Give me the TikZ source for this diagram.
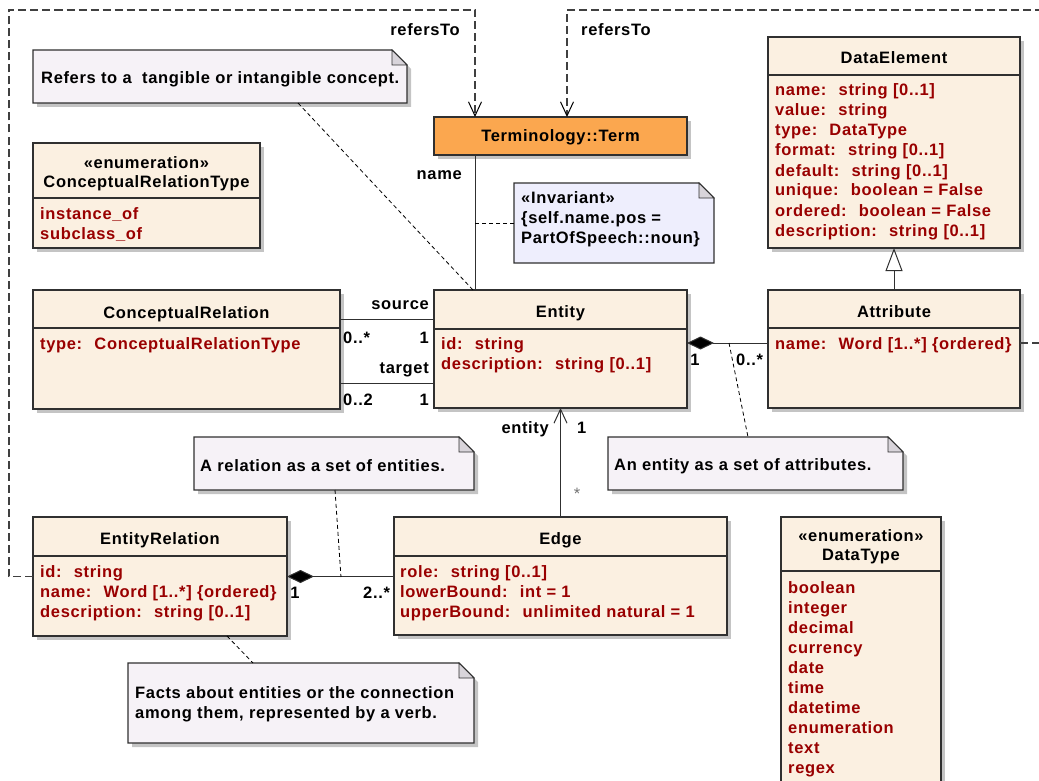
\documentclass[tikz,border=0pt]{standalone}
\usepackage{fontspec}
\setmainfont{Liberation Sans}[LetterSpace=4]
\usetikzlibrary{arrows.meta,shadows}
\definecolor{clsfill}{HTML}{FBF0E1}
\definecolor{attrc}{HTML}{990000}
\definecolor{notefill}{HTML}{F6F2F7}
\definecolor{invfill}{HTML}{EEEEFD}
\definecolor{termfill}{HTML}{FBA74F}
\definecolor{shadowc}{HTML}{C4C4C4}
\definecolor{foldc}{HTML}{D8D4DA}
\definecolor{edgec}{HTML}{303030}
\newcommand\uf{\fontsize{16.5pt}{20pt}\selectfont\bfseries}
\newcommand\drawnote[2]{%
 \path[draw=edgec, line width=1.1pt, fill=#2] (#1.north west) -- ([xshift=-15pt]#1.north east) -- ([yshift=-15pt]#1.north east) -- (#1.south east) -- (#1.south west) -- cycle;
 \filldraw[draw=edgec, line width=0.8pt, fill=foldc] ([xshift=-15pt]#1.north east) -- ([xshift=-15pt,yshift=-15pt]#1.north east) -- ([yshift=-15pt]#1.north east) -- cycle;}
\begin{document}
\begin{tikzpicture}[x=1pt,y=-1pt,
 shd/.style={drop shadow={shadow xshift=4pt,shadow yshift=-4pt,fill=shadowc,opacity=1}},
 cls/.style={draw=edgec, line width=1.1pt, fill=clsfill, inner sep=0, outer sep=0, anchor=north west, shd},
 div/.style={draw=edgec, line width=1.1pt},
 notebox/.style={inner sep=0, outer sep=0, anchor=north west, draw=none, fill=none},
 ttl/.style={font=\uf, inner sep=0, anchor=base, text=black},
 att/.style={font=\uf, inner sep=0, anchor=base west, text=attrc},
 txt/.style={font=\uf, inner sep=0, anchor=base west, text=black},
 lbl/.style={font=\uf, inner sep=0, text=black},
 assoc/.style={draw=edgec, line width=1pt},
 notelink/.style={draw=black, line width=0.8pt, dash pattern=on 4pt off 3pt},
 refersto/.style={draw=black!75, line width=1.2pt, dash pattern=on 8pt off 4pt, -{Straight Barb[length=14pt,width=13pt,line width=1pt,color=black]}},
 nav/.style={assoc, -{Straight Barb[length=14pt,width=13pt,line width=1pt]}},
 comp/.style={assoc, {Diamond[length=27pt,width=13pt,fill=black]}-},
 gen/.style={assoc, -{Triangle[open,length=23pt,width=17pt,fill=white,line width=1pt]}}
]
\useasboundingbox (0,0) rectangle (1039,781);

% ---------- Terminology::Term
\node[cls, fill=termfill, minimum width=253pt, minimum height=38pt] (term) at (434,117) {};
\node[ttl] (termt) at (560.5,142) {Terminology::Term};

% ---------- DataElement
\node[cls, minimum width=252pt, minimum height=211pt] (de) at (768,37) {};
\draw[div] (768,75) -- (1020,75);
\node[ttl] (det) at (894,64) {DataElement};
\node[att] (de1) at (775,96) {name:~ string [0..1]};
\node[att] (de2) at (775,116) {value:~ string};
\node[att] (de3) at (775,136) {type:~ DataType};
\node[att] (de4) at (775,156) {format:~ string [0..1]};
\node[att] (de5) at (775,176) {default:~ string [0..1]};
\node[att] (de6) at (775,196) {unique:~ boolean = False};
\node[att] (de7) at (775,216) {ordered:~ boolean = False};
\node[att] (de8) at (775,236) {description:~ string [0..1]};

% ---------- Attribute
\node[cls, minimum width=252pt, minimum height=118pt] (attr) at (768,290) {};
\draw[div] (768,328) -- (1020,328);
\node[ttl] (attrt) at (894,317) {Attribute};
\node[att] (attr1) at (775,349) {name:~ Word [1..*] \{ordered\}};

% ---------- ConceptualRelationType
\node[cls, minimum width=227pt, minimum height=105pt] (crt) at (33,143) {};
\draw[div] (33,198) -- (260,198);
\node[ttl] (crts) at (146.5,168) {«enumeration»};
\node[ttl] (crtt) at (146.5,187) {ConceptualRelationType};
\node[att] (crt1) at (40,219) {instance\_of};
\node[att] (crt2) at (40,239) {subclass\_of};

% ---------- ConceptualRelation
\node[cls, minimum width=307pt, minimum height=119pt] (cr) at (33,290) {};
\draw[div] (33,328) -- (340,328);
\node[ttl] (crtl) at (186.5,318) {ConceptualRelation};
\node[att] (cr1) at (40,349) {type:~ ConceptualRelationType};

% ---------- Entity
\node[cls, minimum width=253pt, minimum height=118pt] (entity) at (434,290) {};
\draw[div] (434,329) -- (687,329);
\node[ttl] (entt) at (560.5,317) {Entity};
\node[att] (ent1) at (441,349) {id:~ string};
\node[att] (ent2) at (441,369) {description:~ string [0..1]};

% ---------- EntityRelation
\node[cls, minimum width=254pt, minimum height=119pt] (er) at (33,517) {};
\draw[div] (33,556) -- (287,556);
\node[ttl] (ert) at (160,544) {EntityRelation};
\node[att] (er1) at (40,577) {id:~ string};
\node[att] (er2) at (40,597) {name:~ Word [1..*] \{ordered\}};
\node[att] (er3) at (40,617) {description:~ string [0..1]};

% ---------- Edge
\node[cls, minimum width=333pt, minimum height=118pt] (edge) at (394,517) {};
\draw[div] (394,556) -- (727,556);
\node[ttl] (edget) at (560.5,544) {Edge};
\node[att] (edge1) at (400,577) {role:~ string [0..1]};
\node[att] (edge2) at (400,597) {lowerBound:~ int = 1};
\node[att] (edge3) at (400,617) {upperBound:~ unlimited natural = 1};

% ---------- DataType
\node[cls, minimum width=160pt, minimum height=293pt] (dt) at (781,517) {};
\draw[div] (781,571) -- (941,571);
\node[ttl] (dts) at (861,541) {«enumeration»};
\node[ttl] (dtt) at (861,560) {DataType};
\node[att] (dt1) at (788,593) {boolean};
\node[att] (dt2) at (788,613) {integer};
\node[att] (dt3) at (788,633) {decimal};
\node[att] (dt4) at (788,653) {currency};
\node[att] (dt5) at (788,673) {date};
\node[att] (dt6) at (788,693) {time};
\node[att] (dt7) at (788,713) {datetime};
\node[att] (dt8) at (788,733) {enumeration};
\node[att] (dt9) at (788,753) {text};
\node[att] (dt10) at (788,773) {regex};

% ---------- Notes
\node[notebox, minimum width=374pt, minimum height=53pt] (n1) at (33,50) {};
\drawnote{n1}{notefill, shd}
\node[txt] (n1t) at (41,84) {Refers to a~ tangible or intangible concept.};

\node[notebox, minimum width=200pt, minimum height=80pt] (inv) at (514,183) {};
\drawnote{inv}{invfill}
\node[txt] (inv1) at (521,203) {«Invariant»};
\node[txt] (inv2) at (521,223) {\{self.name.pos =};
\node[txt] (inv3) at (521,243) {PartOfSpeech::noun\}};

\node[notebox, minimum width=280pt, minimum height=53pt] (n2) at (194,437) {};
\drawnote{n2}{notefill, shd}
\node[txt] (n2t) at (200,471) {A relation as a set of entities.};

\node[notebox, minimum width=295pt, minimum height=53pt] (n3) at (608,437) {};
\drawnote{n3}{notefill, shd}
\node[txt] (n3t) at (614,470) {An entity as a set of attributes.};

\node[notebox, minimum width=346pt, minimum height=80pt] (n4) at (128,663) {};
\drawnote{n4}{notefill, shd}
\node[txt] (n4a) at (135,698) {Facts about entities or the connection};
\node[txt] (n4b) at (135,718) {among them, represented by a verb.};

% ---------- helper coordinates
\coordinate (lc) at (9,10);
\coordinate (tl) at (475,117);
\coordinate (tr) at (567,117);
\coordinate (rc) at (1045,10);
\coordinate (ra) at (1045,343);
\coordinate (src) at (0,319);
\coordinate (tgt) at (0,383);
\coordinate (ca) at (0,343);
\coordinate (ea) at (729,343);
\coordinate (ra2) at (341,577);

% ---------- refersTo
\draw[refersto] (er.west) -| (lc) -| (tl);
\draw[refersto] (attr.east |- ra) -- (ra) -- (rc) -| (tr);
\node[lbl, anchor=base east] (rl) at (460,36) {refersTo};
\node[lbl, anchor=base west] (rr) at (581,36) {refersTo};

% ---------- name
\draw[assoc] (term.south -| tl) -- (entity.north -| tl);
\node[lbl, anchor=base east] (namel) at (462,179) {name};
\draw[notelink] (inv.west) -- (inv.west -| tl);

% ---------- source / target
\draw[assoc] (cr.east |- src) -- (entity.west |- src);
\draw[assoc] (cr.east |- tgt) -- (entity.west |- tgt);
\node[lbl, anchor=base east] (srcl) at (429,309) {source};
\node[lbl, anchor=base west] (srcm1) at (343,343) {0..*};
\node[lbl, anchor=base east] (srcm2) at (429,343) {1};
\node[lbl, anchor=base east] (tgtl) at (429,373) {target};
\node[lbl, anchor=base west] (tgtm1) at (343,405) {0..2};
\node[lbl, anchor=base east] (tgtm2) at (429,405) {1};

% ---------- Entity - Attribute
\draw[comp] (entity.east |- ca) -- (attr.west |- ca);
\node[lbl, anchor=base] (eam1) at (695,365) {1};
\node[lbl, anchor=base west] (eam2) at (736,365) {0..*};
\draw[gen] (attr.north) -- (de.south);

% ---------- Entity - Edge
\draw[nav] (edge.north) -- (entity.south);
\node[lbl, anchor=base east] (entl) at (549,433) {entity};
\node[lbl, anchor=base west] (entm) at (577,433) {1};
\node[lbl, anchor=base, font=\fontsize{16.5pt}{20pt}\selectfont, text=black!55] (edgem) at (577,499) {*};

% ---------- EntityRelation - Edge
\draw[comp] (er.east) -- (edge.west |- er.east);
\node[lbl, anchor=base] (erm1) at (295,598) {1};
\node[lbl, anchor=base west] (erm2) at (363,598) {2..*};

% ---------- note links
\draw[notelink] ([xshift=265pt]n1.south west) -- (entity.north -| 473,0);
\draw[notelink] (ea) -- ([xshift=140pt]n3.north west);
\draw[notelink] ([xshift=141pt]n2.south west) -- (ra2);
\draw[notelink] ([xshift=194pt]er.south west) -- ([xshift=125pt]n4.north west);
\end{tikzpicture}
\end{document}
